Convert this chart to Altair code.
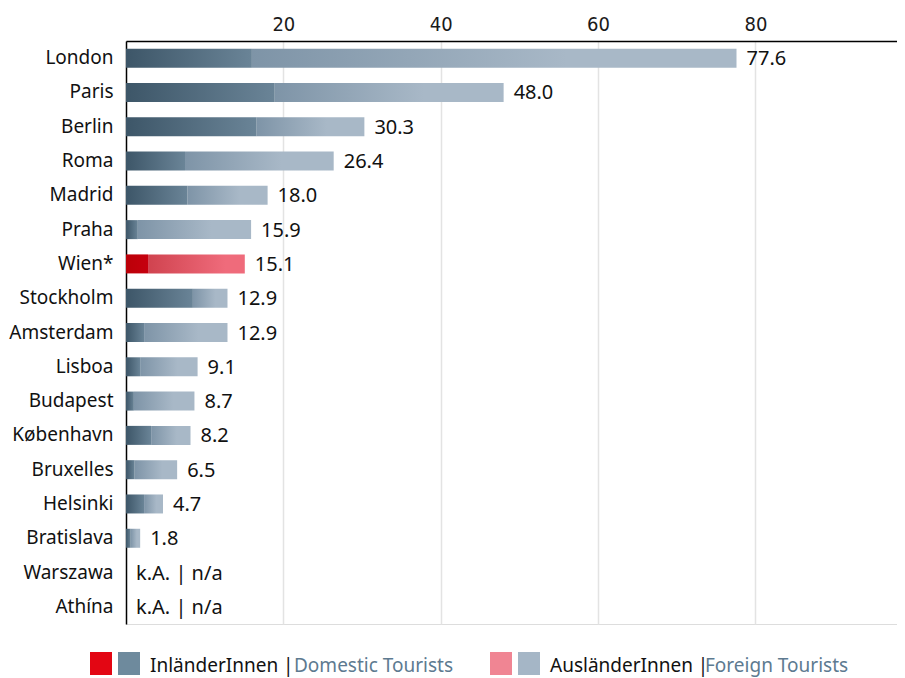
import altair as alt
import pandas as pd

cities = ["London", "Paris", "Berlin", "Roma", "Madrid", "Praha", "Wien*", "Stockholm",
          "Amsterdam", "Lisboa", "Budapest", "København", "Bruxelles", "Helsinki",
          "Bratislava", "Warszawa", "Athína"]
totals = [77.6, 48.0, 30.3, 26.4, 18.0, 15.9, 15.1, 12.9, 12.9, 9.1, 8.7, 8.2, 6.5, 4.7,
          1.8, None, None]
domestic = [16.0, 18.9, 16.6, 7.5, 7.8, 1.5, 2.8, 8.5, 2.3, 1.8, 1.0, 3.2, 1.1, 2.3,
            0.6, None, None]
x_ticks = [20, 40, 60, 80]

rows = []
for c, t, d in zip(cities, totals, domestic):
    rows.append({
        "city": c,
        "total": t,
        "domestic": d,
        "labx": t if t is not None else 0,
        "label": f"{t:.1f}" if t is not None else "k.A. | n/a",
        "wien": c == "Wien*",
    })
df = pd.DataFrame(rows)

FONT = "Noto Sans"
W, H = 771, 583


def grad(c0, c1, mid=None):
    stops = [alt.GradientStop(offset=0, color=c0)]
    if mid is not None:
        stops.append(alt.GradientStop(offset=mid, color=c1))
    stops.append(alt.GradientStop(offset=1, color=c1))
    return alt.Gradient(gradient="linear", stops=stops, x1=0, x2=1, y1=0, y2=0)


ysc = alt.Scale(domain=cities, paddingInner=0, paddingOuter=0)
y_enc = alt.Y("city:N", sort=cities, scale=ysc,
              axis=alt.Axis(title=None, ticks=False, domainColor="#000000", domainWidth=1.5,
                            labelFont=FONT, labelFontSize=19, labelColor="#111111",
                            labelPadding=13, grid=False))
xsc = alt.Scale(domain=[0, 98], nice=False, zero=True)
x_axis = alt.Axis(orient="top", values=x_ticks, title=None, ticks=False, grid=True,
                  gridColor="#e3e3e3", gridWidth=1.5, domainColor="#000000", domainWidth=1.5,
                  labelFont="DejaVu Sans Condensed", labelFontSize=20, labelColor="#1a1a1a",
                  labelPadding=7, format="d")

base = alt.Chart(df)
bar_h = 19

foreign_bars = base.transform_filter("datum.total != null && !datum.wien").mark_bar(
    size=bar_h, color=grad("#7e94a7", "#a8b8c7", 0.65)
).encode(
    x=alt.X("domestic:Q", scale=xsc, axis=x_axis),
    x2="total:Q",
    y=y_enc,
)
domestic_bars = base.transform_filter("datum.total != null && !datum.wien").mark_bar(
    size=bar_h, color=grad("#3d5668", "#6a8497")
).encode(
    x=alt.X("zero:Q", scale=xsc),
    x2="domestic:Q",
    y=alt.Y("city:N", sort=cities),
).transform_calculate(zero="0")

wien_foreign = base.transform_filter("datum.wien").mark_bar(
    size=bar_h, color=grad("#d0434f", "#ef6b7b", 0.8)
).encode(
    x=alt.X("domestic:Q", scale=xsc),
    x2="total:Q",
    y=alt.Y("city:N", sort=cities),
)
wien_domestic = base.transform_filter("datum.wien").mark_bar(
    size=bar_h, color=grad("#bb0008", "#c6000e")
).encode(
    x=alt.X("zero:Q", scale=xsc),
    x2="domestic:Q",
    y=alt.Y("city:N", sort=cities),
).transform_calculate(zero="0")

labels = base.mark_text(
    align="left", baseline="middle", dx=10, dy=1, font=FONT, fontSize=20, color="#111111"
).encode(
    x=alt.X("labx:Q", scale=xsc),
    y=alt.Y("city:N", sort=cities),
    text="label:N",
)

# legend (decoration)
leg_df = pd.DataFrame({"k": [0]})
leg = alt.Chart(leg_df)
sq_y, sq_y2 = 611, 634
txt_y = 625


def swatch(x0, color):
    return leg.mark_rect(color=color).encode(
        x=alt.value(x0), x2=alt.value(x0 + 22), y=alt.value(sq_y), y2=alt.value(sq_y2)
    )


def ltext(x0, s, color):
    return leg.mark_text(align="left", baseline="middle", font=FONT, fontSize=19,
                         color=color).encode(x=alt.value(x0), y=alt.value(txt_y),
                                             text=alt.value(s))


legend_layers = [
    swatch(-36, "#e30613"), swatch(-8, "#6e8a9d"),
    ltext(24, "InländerInnen |", "#111111"),
    ltext(168, "Domestic Tourists", "#5d7a90"),
    swatch(364, "#f08593"), swatch(392, "#a5b6c6"),
    ltext(424, "AusländerInnen |", "#111111"),
    ltext(579, "Foreign Tourists", "#5d7a90"),
]

chart = alt.layer(
    foreign_bars, domestic_bars, wien_foreign, wien_domestic, labels, *legend_layers
).properties(
    width=W, height=H,
    autosize=alt.AutoSizeParams(type="none"),
    padding={"left": 118, "top": 33, "right": 0, "bottom": 58},
).configure_view(stroke=None).configure(background="white")

chart.save("out.html", embed_options={"renderer": "svg", "actions": False})
